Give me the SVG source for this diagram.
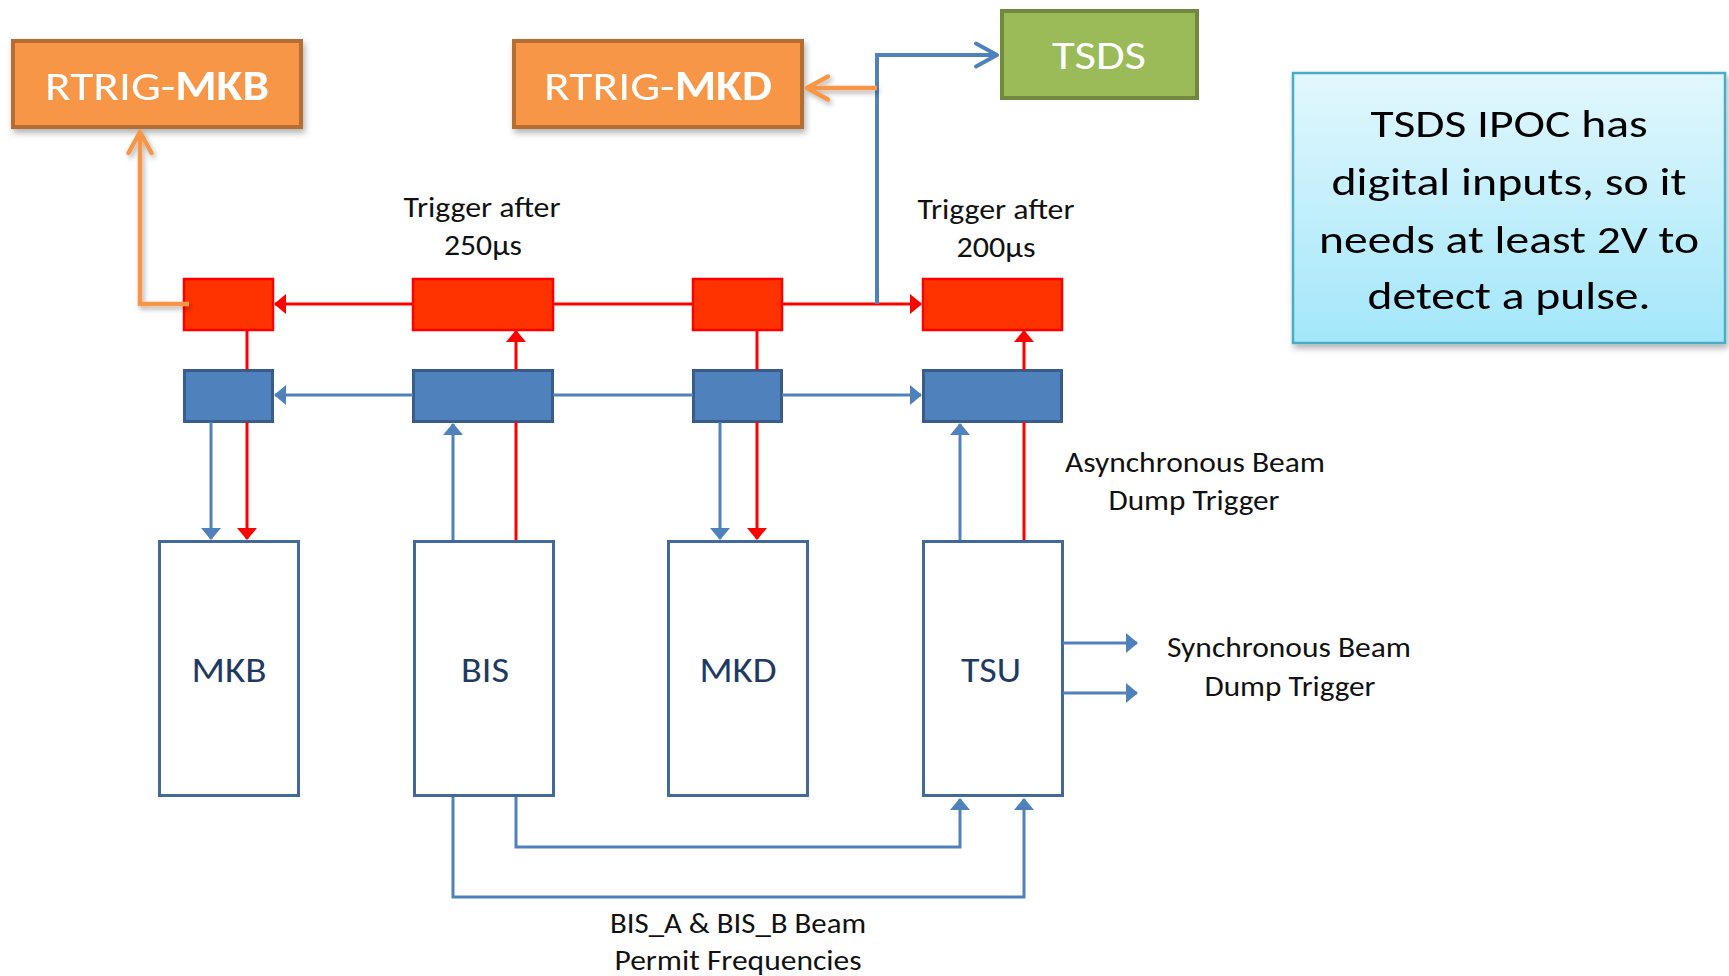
<svg xmlns="http://www.w3.org/2000/svg" width="1729" height="976" viewBox="0 0 1729 976">
<style>
text{font-family:Carlito,Lato,"Open Sans",sans-serif}
.orange{fill:#F79646;stroke:#B66D31;stroke-width:4}
.green{fill:#9BBB59;stroke:#71893F;stroke-width:4}
.red{fill:#FF3300;stroke:#FF0000;stroke-width:2.5}
.blue{fill:#4F81BD;stroke:#385D8A;stroke-width:3}
.big{fill:#FFFFFF;stroke:#41699C;stroke-width:3}
.wt{fill:#FFFFFF;font-size:42px}
.lab{fill:#111;font-size:28px;text-anchor:middle}
.nl{fill:#1F3A62;font-size:35px;text-anchor:middle}
.cl{fill:#000;font-size:39px;text-anchor:middle}
.rl{fill:none;stroke:#FF0000;stroke-width:3}
.bl{fill:none;stroke:#4F81BD;stroke-width:3}
.ol{fill:none;stroke:#F79646;stroke-width:4.5}
.tl{fill:none;stroke:#4F81BD;stroke-width:4}
</style>
<defs>
<marker id="ar" viewBox="0 0 12 20" refX="11" refY="10" markerWidth="12" markerHeight="20" markerUnits="userSpaceOnUse" orient="auto"><path d="M0,0 L12,10 L0,20 z" fill="#FF0000"/></marker>
<marker id="ab" viewBox="0 0 12 20" refX="11" refY="10" markerWidth="12" markerHeight="20" markerUnits="userSpaceOnUse" orient="auto"><path d="M0,0 L12,10 L0,20 z" fill="#4F81BD"/></marker>
<marker id="co" viewBox="-4 -4 32 32" refX="21" refY="11.5" markerWidth="32" markerHeight="32" markerUnits="userSpaceOnUse" orient="auto"><path d="M0,0 L21,11.5 L0,23" fill="none" stroke="#F79646" stroke-width="4.5" stroke-linecap="round" stroke-linejoin="round"/></marker>
<marker id="cb" viewBox="-4 -4 32 32" refX="21" refY="11.5" markerWidth="32" markerHeight="32" markerUnits="userSpaceOnUse" orient="auto"><path d="M0,0 L21,11.5 L0,23" fill="none" stroke="#4F81BD" stroke-width="4" stroke-linecap="round" stroke-linejoin="round"/></marker>
<linearGradient id="cg" x1="0" y1="0" x2="0" y2="1"><stop offset="0" stop-color="#E2F7FD"/><stop offset="1" stop-color="#A3E7FA"/></linearGradient>
<filter id="sh" x="-10%" y="-10%" width="130%" height="140%"><feDropShadow dx="2" dy="4" stdDeviation="3" flood-color="#000" flood-opacity="0.3"/></filter>
<filter id="shl" filterUnits="userSpaceOnUse" x="0" y="0" width="1729" height="976"><feDropShadow dx="2" dy="3" stdDeviation="2.5" flood-color="#000" flood-opacity="0.3"/></filter>
</defs>

<g id="rtrig-mkb" filter="url(#sh)">
<rect class="orange" x="13" y="41" width="288" height="86"/>
<text class="wt" x="157" y="100" text-anchor="middle" textLength="224" lengthAdjust="spacingAndGlyphs">RTRIG-<tspan font-weight="bold">MKB</tspan></text>
</g>
<g id="rtrig-mkd" filter="url(#sh)">
<rect class="orange" x="514" y="41" width="288" height="86"/>
<text class="wt" x="658" y="100" text-anchor="middle" textLength="228" lengthAdjust="spacingAndGlyphs">RTRIG-<tspan font-weight="bold">MKD</tspan></text>
</g>
<g id="tsds">
<rect class="green" x="1002" y="11" width="195" height="87"/>
<text class="wt" x="1099" y="69" text-anchor="middle" textLength="94" lengthAdjust="spacingAndGlyphs">TSDS</text>
</g>
<g id="note" filter="url(#sh)">
<rect x="1293" y="73" width="432" height="270" fill="url(#cg)" stroke="#4BACC6" stroke-width="2.5"/>
<text class="cl" x="1509" y="137" textLength="277" lengthAdjust="spacingAndGlyphs">TSDS IPOC has</text>
<text class="cl" x="1509" y="195" textLength="355" lengthAdjust="spacingAndGlyphs">digital inputs, so it</text>
<text class="cl" x="1509" y="253" textLength="380" lengthAdjust="spacingAndGlyphs">needs at least 2V to</text>
<text class="cl" x="1509" y="309" textLength="283" lengthAdjust="spacingAndGlyphs">detect a pulse.</text>
</g>

<g id="red1"><rect class="red" x="184" y="279" width="89" height="51"/></g>
<g id="red2"><rect class="red" x="413" y="279" width="140" height="51"/></g>
<g id="red3"><rect class="red" x="693" y="279" width="89" height="51"/></g>
<g id="red4"><rect class="red" x="923" y="279" width="139" height="51"/></g>

<g id="blue1"><rect class="blue" x="184.5" y="370.5" width="88" height="51"/></g>
<g id="blue2"><rect class="blue" x="413.5" y="370.5" width="139" height="51"/></g>
<g id="blue3"><rect class="blue" x="693.5" y="370.5" width="88" height="51"/></g>
<g id="blue4"><rect class="blue" x="923.5" y="370.5" width="138" height="51"/></g>

<g id="mkb"><rect class="big" x="159.5" y="541.5" width="139" height="254"/><text class="nl" x="229" y="682" textLength="75" lengthAdjust="spacingAndGlyphs">MKB</text></g>
<g id="bis"><rect class="big" x="414.5" y="541.5" width="139" height="254"/><text class="nl" x="485" y="682" textLength="48" lengthAdjust="spacingAndGlyphs">BIS</text></g>
<g id="mkd"><rect class="big" x="668.5" y="541.5" width="139" height="254"/><text class="nl" x="738" y="682" textLength="77" lengthAdjust="spacingAndGlyphs">MKD</text></g>
<g id="tsu"><rect class="big" x="923.5" y="541.5" width="139" height="254"/><text class="nl" x="991" y="682" textLength="60" lengthAdjust="spacingAndGlyphs">TSU</text></g>

<g id="labels">
<text class="lab" x="482" y="217" textLength="157" lengthAdjust="spacingAndGlyphs">Trigger after</text>
<text class="lab" x="483" y="255" textLength="78" lengthAdjust="spacingAndGlyphs">250µs</text>
<text class="lab" x="996" y="219" textLength="157" lengthAdjust="spacingAndGlyphs">Trigger after</text>
<text class="lab" x="996" y="257" textLength="79" lengthAdjust="spacingAndGlyphs">200µs</text>
<text class="lab" x="1195" y="472" font-size="27" textLength="260" lengthAdjust="spacingAndGlyphs">Asynchronous Beam</text>
<text class="lab" x="1194" y="510" font-size="27" textLength="171" lengthAdjust="spacingAndGlyphs">Dump Trigger</text>
<text class="lab" x="1289" y="657" font-size="27" textLength="244" lengthAdjust="spacingAndGlyphs">Synchronous Beam</text>
<text class="lab" x="1290" y="696" font-size="27" textLength="171" lengthAdjust="spacingAndGlyphs">Dump Trigger</text>
<text class="lab" x="738" y="933" font-size="27" textLength="256" lengthAdjust="spacingAndGlyphs">BIS_A &amp; BIS_B Beam</text>
<text class="lab" x="738" y="970" font-size="27" textLength="247" lengthAdjust="spacingAndGlyphs">Permit Frequencies</text>
</g>

<g id="connectors">
<path class="rl" d="M413,304 H275" marker-end="url(#ar)"/>
<path class="rl" d="M553,304 H693"/>
<path class="rl" d="M782,304 H921" marker-end="url(#ar)"/>
<path class="bl" d="M413,395 H275" marker-end="url(#ab)"/>
<path class="bl" d="M553,395 H693"/>
<path class="bl" d="M782,395 H921" marker-end="url(#ab)"/>
<path class="rl" d="M247,330 V370"/>
<path class="rl" d="M247,422 V539" marker-end="url(#ar)"/>
<path class="bl" d="M211,422 V539" marker-end="url(#ab)"/>
<path class="bl" d="M453,540 V424" marker-end="url(#ab)"/>
<path class="rl" d="M516,540 V422"/>
<path class="rl" d="M516,370 V331" marker-end="url(#ar)"/>
<path class="rl" d="M757,330 V370"/>
<path class="rl" d="M757,422 V539" marker-end="url(#ar)"/>
<path class="bl" d="M720,422 V539" marker-end="url(#ab)"/>
<path class="bl" d="M960,540 V424" marker-end="url(#ab)"/>
<path class="rl" d="M1024,540 V422"/>
<path class="rl" d="M1024,370 V331" marker-end="url(#ar)"/>
<path class="bl" d="M1063,643 H1137" marker-end="url(#ab)"/>
<path class="bl" d="M1063,693 H1137" marker-end="url(#ab)"/>
<path class="bl" d="M453,797 V897 H1024 V799" marker-end="url(#ab)"/>
<path class="bl" d="M516,797 V847 H960 V799" marker-end="url(#ab)"/>
<path class="tl" d="M877,304 V55 H997" marker-end="url(#cb)"/>
<path class="ol" d="M877,88 H807" marker-end="url(#co)" filter="url(#shl)"/>
<path class="ol" d="M189,304 H140 V132" marker-end="url(#co)" filter="url(#shl)"/>
</g>
</svg>
